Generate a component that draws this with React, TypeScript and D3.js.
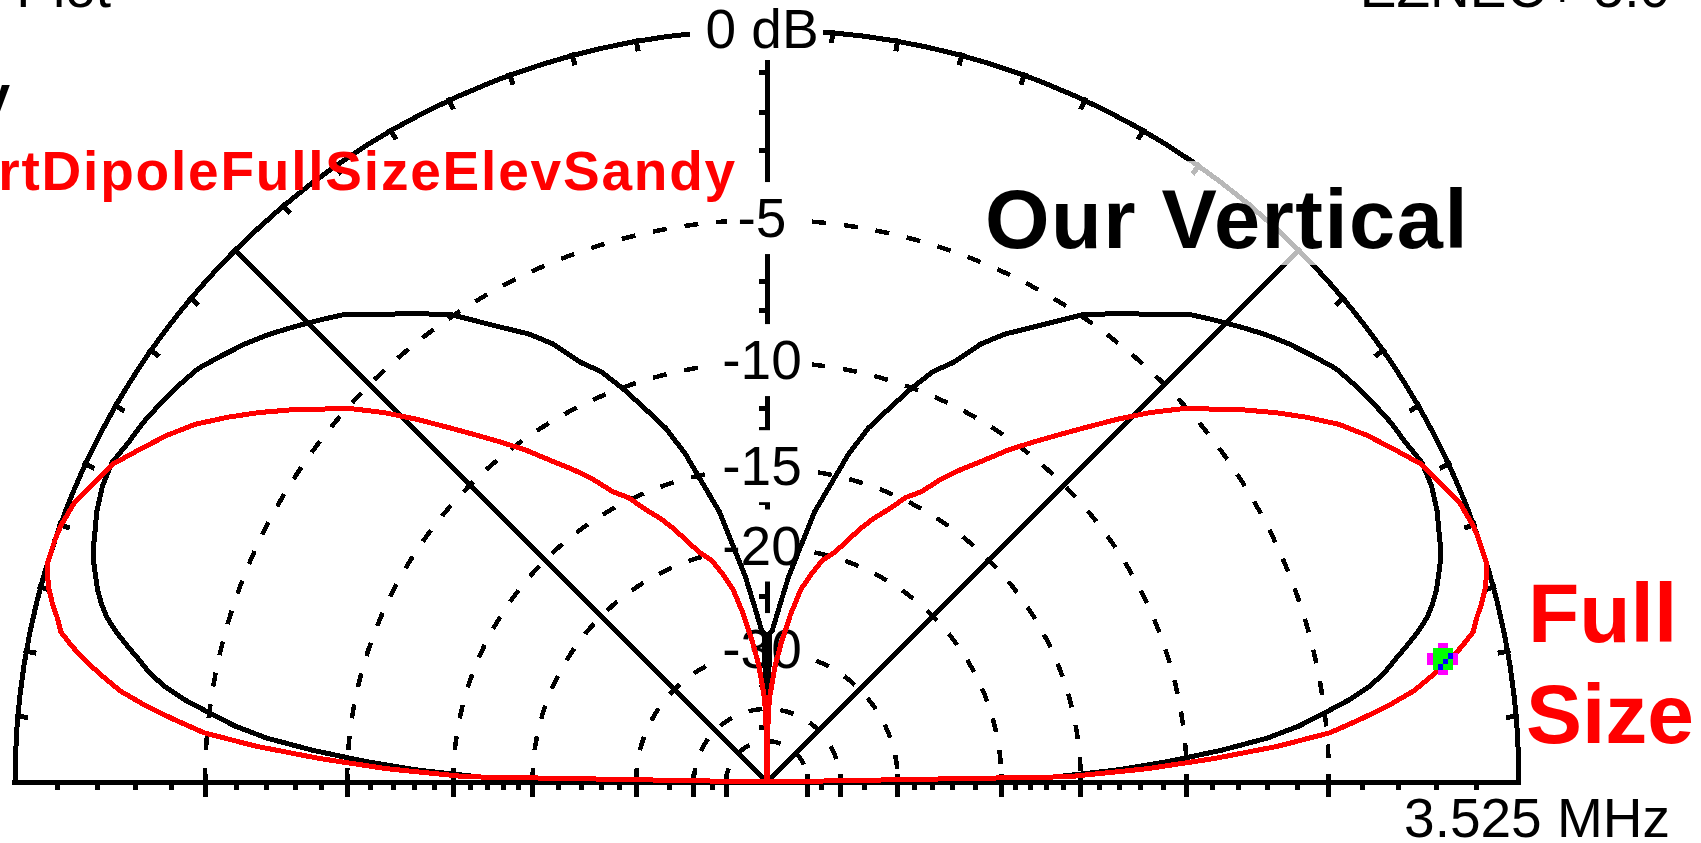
import React from 'react';
import * as d3 from 'd3';

// Elevation angles (degrees above the horizon) at which both patterns are sampled
const ELEVATION_DEG = [
  0, 1, 2, 3, 4, 5, 6, 7, 8, 9, 10, 11, 12, 13, 14, 15, 16, 17, 18, 19, 20,
  22, 24, 26, 28, 30, 32, 34, 36, 38, 40, 42, 44, 46, 48, 50, 52, 54, 56, 58,
  60, 62, 64, 66, 68, 70, 72, 74, 76, 78, 80, 82, 84, 86, 88, 89, 90,
];

// Relative gain (dB) of the black trace, "Our Vertical" (null = deep null)
const OUR_VERTICAL_DB: (number | null)[] = [
  null, -16.5, -13.0, -10.6, -8.6, -6.95, -5.85, -5.05, -4.25, -3.6, -3.13,
  -2.78, -2.4, -2.03, -1.72, -1.5, -1.32, -1.18, -1.04, -0.92, -0.85,
  -0.68, -0.57, -0.54, -0.67, -0.75, -0.87, -1.0, -1.15, -1.42, -1.69, -2.0,
  -2.35, -2.7, -3.05, -3.57, -4.05, -4.5, -4.95, -5.6, -6.2, -6.75, -7.45,
  -8.45, -9.1, -10.1, -11.2, -12.25, -13.7, -15.6, -17.3, -19.9, -22.2,
  -25.0, -27.5, -27.8, null,
];

// Relative gain (dB) of the red trace, "Full Size"
const FULL_SIZE_DB: (number | null)[] = [
  null, -15.7, -11.7, -8.9, -6.6, -4.9, -4.0, -3.15, -2.43, -1.93, -1.46,
  -1.05, -0.7, -0.55, -0.36, -0.2, -0.08, 0, 0, 0, -0.02,
  -0.12, -0.36, -0.59, -1.0, -1.4, -1.86, -2.45, -3.08, -3.75, -4.45, -5.13,
  -5.95, -6.86, -7.8, -8.7, -9.55, -10.4, -11.35, -12.2, -13.1, -14.2,
  -14.85, -15.87, -16.7, -17.7, -18.85, -19.8, -20.45, -21.7, -23.1, -25.6,
  -28.6, -32.0, -37.0, -41.0, null,
];

// Grid rings and their labels
const RING_DB = [-5, -10, -15, -20, -30, -40, -50];
const RING_LABEL_DB = [-5, -10, -15, -20, -30];
const MINOR_TICK_DB = [
  -1, -2, -3, -4, -6, -7, -8, -9, -11, -12, -13, -14, -16, -17, -18, -19,
  -22, -24, -26, -28, -35, -45,
];
const RIM_TICK_DEG = [5, 10, 15, 20, 25, 30, 35, 40, 45, 50, 55, 60, 65, 70, 75, 80, 85];
const RADIAL_DEG = [45, 135];
const CURSOR_ELEV_DEG = 10;

const W = 1701;
const H = 843;
const CX = 767;
const CY = 782;
const R = 752;
const DEG = Math.PI / 180;
const FONT = "'Liberation Sans', Arial, Helvetica, sans-serif";

// ARRL log scale: every 2 dB shrinks the radius by a factor of 0.89
const arrlExp = d3.scaleLinear().domain([0, -2]).range([0, Math.log(0.89)]);
const rOf = (db: number | null) => (db == null ? 0 : R * Math.exp(arrlExp(db)));

// Points of a full (left + right) elevation trace in [angle, radius] form
function tracePoints(db: (number | null)[]): [number, number][] {
  const left = ELEVATION_DEG.map((e, i) => [-(90 - e) * DEG, rOf(db[i])] as [number, number]);
  const right = ELEVATION_DEG.map((e, i) => [(90 - e) * DEG, rOf(db[i])] as [number, number])
    .reverse()
    .slice(1);
  return left.concat(right);
}

const radialLine = d3
  .lineRadial<[number, number]>()
  .angle((d) => d[0])
  .radius((d) => d[1])
  .curve(d3.curveLinear);

function semicircle(r: number) {
  const p = d3.path();
  p.moveTo(CX - r, CY);
  p.arc(CX, CY, r, Math.PI, 2 * Math.PI);
  return p.toString();
}

function polar(angleDeg: number, r: number): [number, number] {
  // angleDeg measured clockwise from straight up
  const [x, y] = d3.pointRadial(angleDeg * DEG, r);
  return [CX + x, CY + y];
}

export default function App() {
  const blackPath = radialLine(tracePoints(OUR_VERTICAL_DB)) || '';
  const redPath = radialLine(tracePoints(FULL_SIZE_DB)) || '';

  const cursorIdx = ELEVATION_DEG.indexOf(CURSOR_ELEV_DEG);
  const [mx, my] = polar(90 - CURSOR_ELEV_DEG, rOf(FULL_SIZE_DB[cursorIdx]));

  const rimTicks: { x1: number; y1: number; x2: number; y2: number }[] = [];
  RIM_TICK_DEG.forEach((e) => {
    [90 - e, -(90 - e)].forEach((a) => {
      const [x1, y1] = polar(a, R - 10);
      const [x2, y2] = polar(a, R + 3);
      rimTicks.push({ x1, y1, x2, y2 });
    });
  });

  const labelBoxes = RING_LABEL_DB.map((db) => {
    const y = CY - rOf(db);
    const w = db === -5 ? 70 : 100;
    return { db, y, w };
  });

  return (
    <svg
      width={W}
      height={H}
      viewBox={`0 0 ${W} ${H}`}
      style={{ position: 'absolute', left: 0, top: 0, background: '#fff', display: 'block' }}
    >
      <rect x={0} y={0} width={W} height={H} fill="#fff" />

      <g shapeRendering="crispEdges" fill="none" stroke="#000">
        {/* dashed dB rings */}
        {RING_DB.map((db) => (
          <path key={db} d={semicircle(rOf(db))} strokeWidth={4.5} strokeDasharray="14 18" />
        ))}
        {/* 45 degree radials */}
        {RADIAL_DEG.map((e) => {
          const [x, y] = polar(90 - e, R);
          return <line key={e} x1={CX} y1={CY} x2={x} y2={y} strokeWidth={4.5} />;
        })}
        {/* vertical axis */}
        <line x1={CX} y1={CY} x2={CX} y2={CY - R} strokeWidth={5} />
        {MINOR_TICK_DB.map((db) => (
          <line key={'v' + db} x1={CX - 8} x2={CX} y1={CY - rOf(db)} y2={CY - rOf(db)} strokeWidth={5} />
        ))}
        {/* outer 0 dB circle */}
        <path d={semicircle(R)} strokeWidth={5} />
        {rimTicks.map((t, i) => (
          <line key={'r' + i} {...t} strokeWidth={5} />
        ))}
        {/* baseline */}
        <line x1={CX - R - 3} x2={CX + R + 2} y1={CY} y2={CY} strokeWidth={5} />
        {MINOR_TICK_DB.map((db) =>
          [-1, 1].map((s) => (
            <line
              key={'b' + db + s}
              x1={CX + s * rOf(db)}
              x2={CX + s * rOf(db)}
              y1={CY}
              y2={CY + 8}
              strokeWidth={5}
            />
          ))
        )}
        {RING_DB.map((db) =>
          [-1, 1].map((s) => (
            <line
              key={'B' + db + s}
              x1={CX + s * rOf(db)}
              x2={CX + s * rOf(db)}
              y1={CY - 8}
              y2={CY + 15}
              strokeWidth={5}
            />
          ))
        )}
      </g>

      {/* ring labels on the vertical axis */}
      <g fontFamily={FONT} fontSize={55} fill="#000" textAnchor="middle">
        <rect x={690} y={0} width={133} height={60} fill="#fff" />
        <text x={762} y={48}>0 dB</text>
        {labelBoxes.map(({ db, y, w }) => (
          <g key={db}>
            <rect x={762 - w / 2} y={y - 38} width={w} height={72} fill="#fff" />
            <text x={762} y={y + 17}>{String(db)}</text>
          </g>
        ))}
      </g>

      {/* pattern traces */}
      <g transform={`translate(${CX},${CY})`} fill="none" shapeRendering="crispEdges">
        <path d={blackPath} stroke="#000" strokeWidth={5} strokeLinejoin="round" />
        <path d={redPath} stroke="#ff0000" strokeWidth={5} strokeLinejoin="round" />
      </g>

      {/* cursor marker on the red trace */}
      <g transform={`translate(${Math.round(mx) - 4},${Math.round(my) - 3})`} shapeRendering="crispEdges">
        <rect x={-5} y={-16} width={10} height={5} fill="#ff00ff" />
        <rect x={-5} y={11} width={10} height={5} fill="#ff00ff" />
        <rect x={-16} y={-6} width={6} height={12} fill="#ff00ff" />
        <rect x={10} y={-6} width={5} height={12} fill="#ff00ff" />
        <rect x={-10} y={-11} width={20} height={22} fill="#00ff00" />
        <rect x={5} y={-6} width={5} height={6} fill="#0000ff" />
        <rect x={0} y={0} width={5} height={5} fill="#0000ff" />
        <rect x={-5} y={5} width={5} height={6} fill="#0000ff" />
      </g>

      {/* header lines, cut by the top edge */}
      <g fontFamily={FONT} fontSize={55} fill="#000">
        <text x={111} y={7} textAnchor="end">Elevation Plot</text>
        <text x={1670} y={7} textAnchor="end">EZNEC+ 5.0</text>
        <text x={12} y={114} textAnchor="end" fontWeight="bold" letterSpacing={1.8}>
          ShortVertElevSandy
        </text>
        <text x={1670} y={837} textAnchor="end">3.525 MHz</text>
      </g>
      <text
        x={737}
        y={190}
        textAnchor="end"
        fontFamily={FONT}
        fontSize={55}
        fontWeight="bold"
        letterSpacing={1.8}
        fill="#ff0000"
      >
        VertDipoleFullSizeElevSandy
      </text>

      {/* trace captions */}
      <rect x={990} y={161} width={480} height={104} fill="#fff" opacity={0.72} />
      <text
        x={985}
        y={248}
        fontFamily={FONT}
        fontSize={83}
        fontWeight="bold"
        letterSpacing={1.5}
        fill="#000"
      >
        Our Vertical
      </text>
      <g fontFamily={FONT} fontSize={84} fontWeight="bold" fill="#ff0000">
        <text x={1528} y={642}>Full</text>
        <text x={1526} y={743}>Size</text>
      </g>
    </svg>
  );
}
